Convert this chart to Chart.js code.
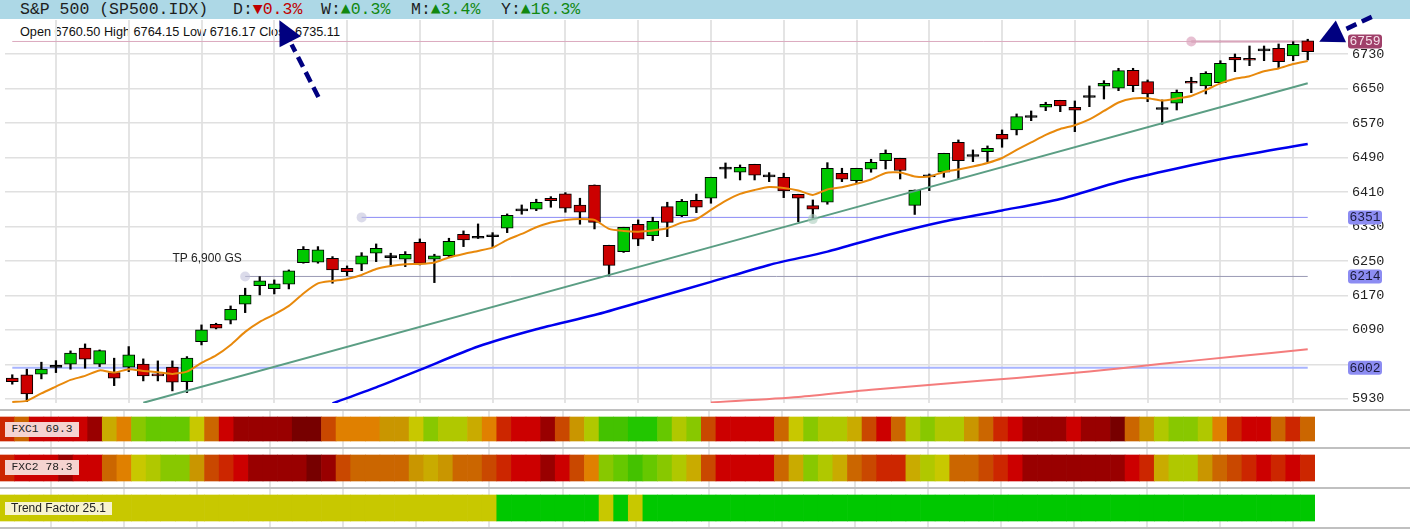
<!DOCTYPE html>
<html>
<head>
<meta charset="utf-8">
<script src="https://cdn.jsdelivr.net/npm/chart.js@4"></script>
<style>
  html, body { margin: 0; padding: 0; background: #fff; }
  body { width: 1410px; height: 529px; position: relative; overflow: hidden; font-family: "Liberation Sans", Arial, sans-serif; }
  .header { position: absolute; left: 0; top: 0; width: 1410px; height: 19px; background: #add8e6; z-index: 0; }
  .header .grp { position: absolute; top: 0; line-height: 20px; font-family: "Liberation Mono", monospace; font-size: 16.5px; color: #1e1e1e; white-space: pre; }
  .header .dn { color: #c00000; }
  .header .up { color: #118811; }
  #ohlc { position: absolute; left: 20px; top: 25px; line-height: 14px; font-size: 12.7px; color: #111; white-space: pre; z-index: 1; }
  canvas { position: absolute; left: 0; }
  #main { top: 0; z-index: 2; }
  #fxc1 { top: 411px; }
  #fxc2 { top: 449px; }
  #trend { top: 489px; }
  .sep { position: absolute; left: 0; width: 1410px; height: 2px; background: #c0c0c0; z-index: 3; }
  .lbl { position: absolute; left: 5px; z-index: 4; color: #222; white-space: pre; }
  .fxc { width: 74px; height: 15px; line-height: 15px; background: #f5d3d0; font-family: "Liberation Mono", monospace; font-size: 11.3px; text-align: center; }
  .tf { width: 107px; height: 13px; line-height: 13px; background: #f7f3cf; font-size: 12px; text-align: center; top: 502px; }
</style>
</head>
<body>
<div class="header">
  <span class="grp" style="left:20px">S&amp;P 500 (SP500.IDX)</span>
  <span class="grp" style="left:233px">D:<span class="dn">▼0.3%</span></span>
  <span class="grp" style="left:321px">W:<span class="up">▲0.3%</span></span>
  <span class="grp" style="left:411px">M:<span class="up">▲3.4%</span></span>
  <span class="grp" style="left:501px">Y:<span class="up">▲16.3%</span></span>
</div>
<div id="ohlc">Open 6760.50 High 6764.15 Low 6716.17 Close 6735.11</div>
<canvas id="main" width="1410" height="415"></canvas>
<canvas id="fxc1" width="1315" height="36"></canvas>
<canvas id="fxc2" width="1315" height="38"></canvas>
<canvas id="trend" width="1315" height="38"></canvas>
<div class="sep" style="top:409px"></div>
<div class="sep" style="top:447px"></div>
<div class="sep" style="top:487px"></div>
<div class="sep" style="top:527px"></div>
<div class="lbl fxc" style="top:422px">FXC1 69.3</div>
<div class="lbl fxc" style="top:460px">FXC2 78.3</div>
<div class="lbl tf">Trend Factor 25.1</div>

<script>
// daily candles, oldest first
const opens = [5978.0, 5985.7, 5987.3, 6003.0, 6010.5, 6047.6, 6010.5, 5991.0, 6003.5, 6010.5,
  5988.0, 6003.5, 5970.1, 6062.9, 6103.2, 6112.5, 6149.6, 6192.7, 6185.8, 6196.0,
  6246.1, 6247.0, 6256.3, 6233.1, 6242.3, 6267.9, 6257.6, 6253.9, 6293.4, 6253.9,
  6262.3, 6311.9, 6302.6, 6306.0, 6325.8, 6365.9, 6369.9, 6395.4, 6405.4, 6379.8,
  6426.2, 6286.4, 6271.6, 6335.1, 6308.7, 6375.9, 6355.0, 6390.3, 6395.4, 6463.0,
  6455.7, 6474.2, 6445.0, 6444.1, 6404.7, 6378.2, 6386.1, 6453.4, 6436.2, 6462.6,
  6482.6, 6488.1, 6378.7, 6445.0, 6455.7, 6525.2, 6492.3, 6503.4, 6543.8, 6553.8,
  6582.7, 6606.4, 6622.6, 6606.4, 6629.1, 6655.1, 6650.5, 6692.2, 6665.8, 6601.2,
  6615.7, 6666.7, 6655.8, 6663.4, 6722.3, 6720.0, 6737.1, 6743.2, 6725.4, 6760.50];
const highs = [5986.0, 5998.9, 6015.1, 6018.8, 6041.3, 6057.5, 6043.6, 6024.4, 6051.3, 6022.8,
  6018.1, 6018.1, 6028.1, 6101.6, 6105.5, 6145.6, 6186.7, 6213.6, 6205.9, 6229.1,
  6283.2, 6283.2, 6260.0, 6238.4, 6269.2, 6289.4, 6267.9, 6271.6, 6301.0, 6265.5,
  6302.6, 6319.6, 6335.8, 6315.6, 6359.0, 6379.8, 6393.1, 6399.1, 6408.4, 6395.4,
  6426.2, 6286.4, 6328.1, 6345.1, 6351.3, 6386.1, 6392.6, 6404.9, 6444.1, 6477.2,
  6472.6, 6474.2, 6454.8, 6453.4, 6404.7, 6391.4, 6477.9, 6464.9, 6464.9, 6485.8,
  6507.4, 6488.1, 6414.6, 6451.7, 6499.7, 6530.6, 6507.4, 6516.7, 6553.8, 6590.9,
  6597.8, 6618.0, 6622.6, 6621.0, 6655.8, 6668.1, 6696.8, 6696.8, 6669.7, 6623.3,
  6646.5, 6676.0, 6688.9, 6714.4, 6730.0, 6748.5, 6748.5, 6753.2, 6758.5, 6764.15];
const lows = [5964.1, 5923.7, 5976.4, 5991.0, 5998.9, 6001.2, 6004.9, 5960.8, 5993.3, 5971.7,
  5971.7, 5948.6, 5944.6, 6055.2, 6092.3, 6103.9, 6130.1, 6171.2, 6173.5, 6185.1,
  6244.7, 6244.7, 6198.3, 6215.9, 6227.5, 6248.4, 6237.0, 6236.8, 6240.7, 6199.7,
  6260.0, 6283.2, 6302.0, 6283.2, 6315.6, 6358.3, 6366.6, 6374.5, 6362.9, 6335.1,
  6324.2, 6215.2, 6269.7, 6285.5, 6297.1, 6306.3, 6352.7, 6362.0, 6383.8, 6441.8,
  6437.8, 6437.8, 6433.9, 6396.8, 6341.1, 6349.0, 6381.5, 6433.9, 6431.6, 6455.7,
  6463.3, 6440.1, 6357.8, 6413.0, 6444.1, 6440.8, 6480.3, 6480.3, 6513.6, 6542.2,
  6575.3, 6598.5, 6596.2, 6549.8, 6607.8, 6625.6, 6644.9, 6642.6, 6619.4, 6567.0,
  6600.1, 6640.2, 6637.3, 6662.0, 6689.0, 6702.9, 6714.4, 6696.8, 6714.4, 6716.17];
const closes = [5970.1, 5941.6, 5998.9, 6004.0, 6036.0, 6022.1, 6042.0, 5978.0, 6032.0, 5983.3,
  5983.3, 5968.7, 6024.4, 6090.0, 6093.9, 6138.0, 6170.5, 6203.6, 6196.7, 6226.8,
  6277.1, 6276.0, 6229.1, 6225.2, 6261.6, 6279.4, 6258.6, 6265.5, 6244.2, 6261.6,
  6295.2, 6298.7, 6303.4, 6307.0, 6356.0, 6366.9, 6386.1, 6389.8, 6372.2, 6362.9,
  6339.3, 6239.6, 6328.1, 6300.3, 6341.6, 6339.3, 6388.0, 6374.5, 6444.1, 6464.0,
  6467.3, 6448.7, 6446.0, 6412.3, 6395.4, 6369.9, 6464.9, 6439.4, 6464.9, 6478.9,
  6499.7, 6459.8, 6414.6, 6446.0, 6499.7, 6482.6, 6493.3, 6511.3, 6532.2, 6584.6,
  6583.7, 6613.3, 6609.4, 6599.4, 6630.1, 6662.0, 6691.3, 6656.5, 6637.3, 6602.2,
  6641.2, 6662.0, 6685.2, 6708.4, 6716.1, 6715.4, 6738.1, 6712.1, 6752.5, 6735.11];

// orange short moving average
const maFast = [5923.0, 5925.4, 5942.8, 5958.5, 5974.1, 5983.3, 5996.1, 5991.0, 5998.9, 5994.9,
  5991.9, 5988.0, 5993.3, 6013.5, 6030.9, 6055.2, 6085.4, 6108.6, 6125.9, 6145.6,
  6174.6, 6197.8, 6203.6, 6208.3, 6217.5, 6231.4, 6238.4, 6242.3, 6243.0, 6246.5,
  6258.1, 6266.2, 6273.2, 6280.8, 6298.7, 6312.6, 6328.1, 6339.3, 6345.1, 6347.4,
  6345.1, 6324.2, 6319.6, 6317.9, 6320.7, 6325.8, 6338.8, 6346.7, 6368.3, 6389.1,
  6405.4, 6414.6, 6421.6, 6419.3, 6413.5, 6403.0, 6415.8, 6420.9, 6429.0, 6439.0,
  6454.0, 6455.2, 6445.9, 6445.5, 6456.4, 6462.2, 6469.1, 6477.2, 6488.8, 6507.4,
  6524.8, 6542.2, 6556.1, 6564.7, 6578.1, 6597.8, 6617.5, 6626.8, 6627.3, 6621.9,
  6626.8, 6632.6, 6646.5, 6661.8, 6672.5, 6678.5, 6690.1, 6696.4, 6706.8, 6713.8];

// blue and pink slower averages, read at a few candles
const maMidIdx = [22, 25, 28, 32, 36, 40, 44, 48, 52, 56, 60, 64, 68, 72, 76, 80, 84, 89];
const maMidVal = [5919.6, 5956.7, 5997.2, 6051.4, 6091.4, 6124.5, 6163.0, 6201.3, 6240.7, 6271.6,
  6309.1, 6341.6, 6367.1, 6393.8, 6433.2, 6464.5, 6492.0, 6521.3];
const maSlowIdx = [48, 54, 59, 64, 69, 74, 79, 84, 89];
const maSlowVal = [5921.8, 5934.6, 5951.3, 5965.2, 5978.5, 5993.5, 6011.6, 6028.1, 6045.0];

// green trend line (start, anchor, end)
const trendIdx = [9, 55, 89];
const trendVal = [5921, 6347, 6662];

// horizontal levels and where they start
const levelValues = [6759, 6351, 6214, 6002];
const levelStarts = [81, 24, 16, 0];

const yTicks = [5930, 6010, 6090, 6170, 6250, 6330, 6410, 6490, 6570, 6650, 6730];

// indicator strips, colour level per candle (0 = dark red ... 15 = green)
const fxc1Levels = [3, 5, 2, 2, 2, 2, 1, 8, 6, 11, 12, 12, 12, 9, 5, 2, 1, 1, 1, 1,
  0, 0, 4, 6, 6, 6, 7, 7, 9, 11, 10, 10, 8, 6, 3, 2, 2, 1, 4, 7,
  10, 13, 13, 14, 14, 12, 10, 11, 4, 2, 2, 2, 2, 5, 9, 11, 10, 10, 8, 4,
  2, 5, 10, 11, 10, 10, 7, 5, 3, 2, 1, 1, 1, 2, 1, 1, 0, 5, 7, 10,
  11, 11, 10, 6, 3, 2, 2, 5, 3, 5];
const fxc2Levels = [3, 2, 2, 2, 1, 2, 2, 5, 6, 9, 10, 11, 11, 7, 4, 3, 2, 1, 1, 1,
  1, 0, 1, 4, 5, 5, 5, 5, 7, 8, 7, 5, 5, 4, 3, 2, 2, 1, 2, 4,
  6, 11, 12, 13, 12, 11, 10, 8, 4, 2, 2, 2, 2, 5, 8, 11, 10, 8, 5, 4,
  3, 3, 8, 10, 9, 5, 5, 4, 3, 2, 1, 1, 1, 1, 1, 1, 1, 2, 3, 8,
  10, 10, 7, 5, 4, 3, 2, 3, 2, 3];
const trendLevels = [9, 9, 9, 9, 9, 9, 9, 9, 9, 9, 9, 9, 9, 9, 9, 9, 9, 9, 9, 9,
  9, 9, 9, 9, 9, 9, 9, 9, 9, 9, 9, 9, 9, 9, 15, 15, 15, 15, 15, 15,
  15, 9, 15, 9, 15, 15, 15, 15, 15, 15, 15, 15, 15, 15, 15, 15, 15, 15, 15, 15,
  15, 15, 15, 15, 15, 15, 15, 15, 15, 15, 15, 15, 15, 15, 15, 15, 15, 15, 15, 15,
  15, 15, 15, 15, 15, 15, 15, 15, 15, 15];

const palette = ['#770000', '#990000', '#cc0000', '#cc2600', '#c94800', '#cb6600', '#e08000', '#c99600',
  '#c9ab00', '#c8c800', '#b0c800', '#88c800', '#66c800', '#44c200', '#22c600', '#00c800'];

Chart.defaults.font.family = '"Liberation Sans", Arial, sans-serif';

const labels = opens.map((_, i) => String(i));
const pts = (idx, vals) => idx.map((k, j) => ({ x: String(k), y: vals[j] }));
const bodyColors = opens.map((o, i) => Math.abs(closes[i] - o) < 2 ? '#000' : (closes[i] > o ? '#00c800' : '#cc0000'));
const gridX = ctx => (ctx.index % 5 === 3 ? '#e4e4e4' : 'rgba(0,0,0,0)');

function drawArrow(ctx, x0, y0, x1, y1) {
  const len = Math.hypot(x1 - x0, y1 - y0);
  const ux = (x1 - x0) / len, uy = (y1 - y0) / len;
  const head = 24, half = 12;
  const bx = x1 - ux * head, by = y1 - uy * head;
  ctx.save();
  ctx.strokeStyle = '#000080';
  ctx.fillStyle = '#000080';
  ctx.lineWidth = 4.5;
  ctx.setLineDash([11, 6]);
  ctx.beginPath();
  ctx.moveTo(x0, y0);
  ctx.lineTo(bx - ux * 3, by - uy * 3);
  ctx.stroke();
  ctx.setLineDash([]);
  ctx.beginPath();
  ctx.moveTo(x1, y1);
  ctx.lineTo(bx - uy * half, by + ux * half);
  ctx.lineTo(bx + uy * half, by - ux * half);
  ctx.closePath();
  ctx.fill();
  ctx.restore();
}

// annotations: target note, price tags on the axis, arrows
const overlay = {
  id: 'overlay',
  afterDraw(chart) {
    const { ctx, scales: { x, y }, chartArea } = chart;
    ctx.save();
    ctx.font = '12px "Liberation Sans", Arial';
    ctx.fillStyle = '#222';
    ctx.textBaseline = 'middle';
    ctx.fillText('TP 6,900 GS', x.getPixelForValue(11), y.getPixelForValue(6254.6));

    const tagFill = ['#a0406a', '#8c8cf2', '#8c8cf2', '#8c8cf2'];
    const tagText = ['#f6e0ea', '#1a1a3a', '#1a1a3a', '#1a1a3a'];
    ctx.font = '13px "Liberation Mono", monospace';
    ctx.textAlign = 'center';
    levelValues.forEach((v, i) => {
      const py = y.getPixelForValue(v);
      const left = chartArea.right + 33;
      ctx.fillStyle = tagFill[i];
      ctx.beginPath();
      ctx.roundRect(left, py - 7, 34, 14, 3);
      ctx.fill();
      ctx.fillStyle = tagText[i];
      ctx.fillText(String(v), left + 17, py + 0.5);
    });
    ctx.restore();

    drawArrow(ctx, x.getPixelForValue(21.03), y.getPixelForValue(6630), x.getPixelForValue(18.35), y.getPixelForValue(6808));
    drawArrow(ctx, x.getPixelForValue(93.4), y.getPixelForValue(6816), x.getPixelForValue(89.79), y.getPixelForValue(6758.5));
  }
};

const lineBase = { type: 'line', pointRadius: 0, fill: false, order: 0 };
const levelBase = { type: 'line', fill: false, order: 3, borderWidth: 1, pointBorderWidth: 0 };

new Chart(document.getElementById('main'), {
  type: 'bar',
  data: {
    labels,
    datasets: [
      { type: 'bar', data: opens.map((o, i) => [o, closes[i]]), backgroundColor: bodyColors, borderColor: '#000',
        borderWidth: 1, borderSkipped: false, barThickness: 12, minBarLength: 2, grouped: false, order: 1 },
      { type: 'bar', data: lows.map((l, i) => [l, highs[i]]), backgroundColor: '#000',
        barThickness: 1.6, grouped: false, order: 2 },
      { ...lineBase, data: maFast, borderColor: '#e8890c', borderWidth: 2, tension: 0.2 },
      { ...lineBase, data: pts(trendIdx, trendVal), borderColor: '#5b9e84', borderWidth: 2,
        pointRadius: [0, 5, 0], pointBackgroundColor: 'rgba(170,205,188,0.6)', pointBorderWidth: 0 },
      { ...lineBase, data: pts(maMidIdx, maMidVal), borderColor: '#0000ee', borderWidth: 2.5, tension: 0.25 },
      { ...lineBase, data: pts(maSlowIdx, maSlowVal), borderColor: '#f47c7c', borderWidth: 2, tension: 0.25 },
      { ...levelBase, data: pts([0, 89], [levelValues[0], levelValues[0]]), borderColor: '#dcaabf', pointRadius: 0 },
      { ...levelBase, data: pts([levelStarts[0], 89], [levelValues[0], levelValues[0]]), borderColor: '#a03060',
        borderWidth: 1.5, pointRadius: [5, 0], pointBackgroundColor: 'rgba(215,150,180,0.6)' },
      { ...levelBase, data: pts([levelStarts[1], 89], [levelValues[1], levelValues[1]]), borderColor: '#8a8af5',
        pointRadius: [5, 0], pointBackgroundColor: 'rgba(195,195,220,0.6)' },
      { ...levelBase, data: pts([levelStarts[2], 89], [levelValues[2], levelValues[2]]), borderColor: '#9a9ab4',
        pointRadius: [5, 0], pointBackgroundColor: 'rgba(195,195,220,0.6)' },
      { ...levelBase, data: pts([levelStarts[3], 89], [levelValues[3], levelValues[3]]), borderColor: '#a8b4ff',
        borderWidth: 2, pointRadius: 0 }
    ]
  },
  options: {
    responsive: false,
    animation: false,
    layout: { padding: { top: 20, bottom: 12, left: 0, right: 0 } },
    plugins: { legend: { display: false }, tooltip: { enabled: false } },
    scales: {
      x: {
        offset: true,
        grid: { offset: false, drawTicks: false, color: gridX, lineWidth: 2 },
        border: { display: false },
        ticks: { display: false, autoSkip: false }
      },
      y: {
        position: 'right',
        min: 5920.7,
        max: 6808.8,
        afterBuildTicks: s => { s.ticks = yTicks.map(v => ({ value: v })); },
        afterFit: s => { s.width = 95; },
        grid: { color: '#e0e0e0', lineWidth: 1.5, tickLength: 33, tickColor: '#e0e0e0' },
        border: { display: false },
        ticks: { font: { family: '"Liberation Mono", monospace', size: 13.5 }, color: '#222', padding: 4,
          // a label sitting right under a price tag is hidden by it
          callback: v => (levelValues.some(l => Math.abs(l - v) < 15) ? '' : String(v)) }
      }
    }
  },
  plugins: [overlay]
});

function makeStrip(id, levels, pad) {
  return new Chart(document.getElementById(id), {
    type: 'bar',
    data: {
      labels,
      datasets: [{ data: levels.map(() => 1), backgroundColor: levels.map(l => palette[l]),
        borderWidth: 0, barPercentage: 1, categoryPercentage: 1 }]
    },
    options: {
      responsive: false,
      animation: false,
      layout: { padding: 0 },
      plugins: { legend: { display: false }, tooltip: { enabled: false } },
      scales: {
        x: { offset: true, grid: { offset: false, drawTicks: false, color: gridX, lineWidth: 2 },
          border: { display: false }, ticks: { display: false, autoSkip: false } },
        y: { display: false, min: -pad, max: 1 + pad }
      }
    }
  });
}

makeStrip('fxc1', fxc1Levels, 0.25);
makeStrip('fxc2', fxc2Levels, 6 / 26);
makeStrip('trend', trendLevels, 6 / 26);
</script>
</body>
</html>
